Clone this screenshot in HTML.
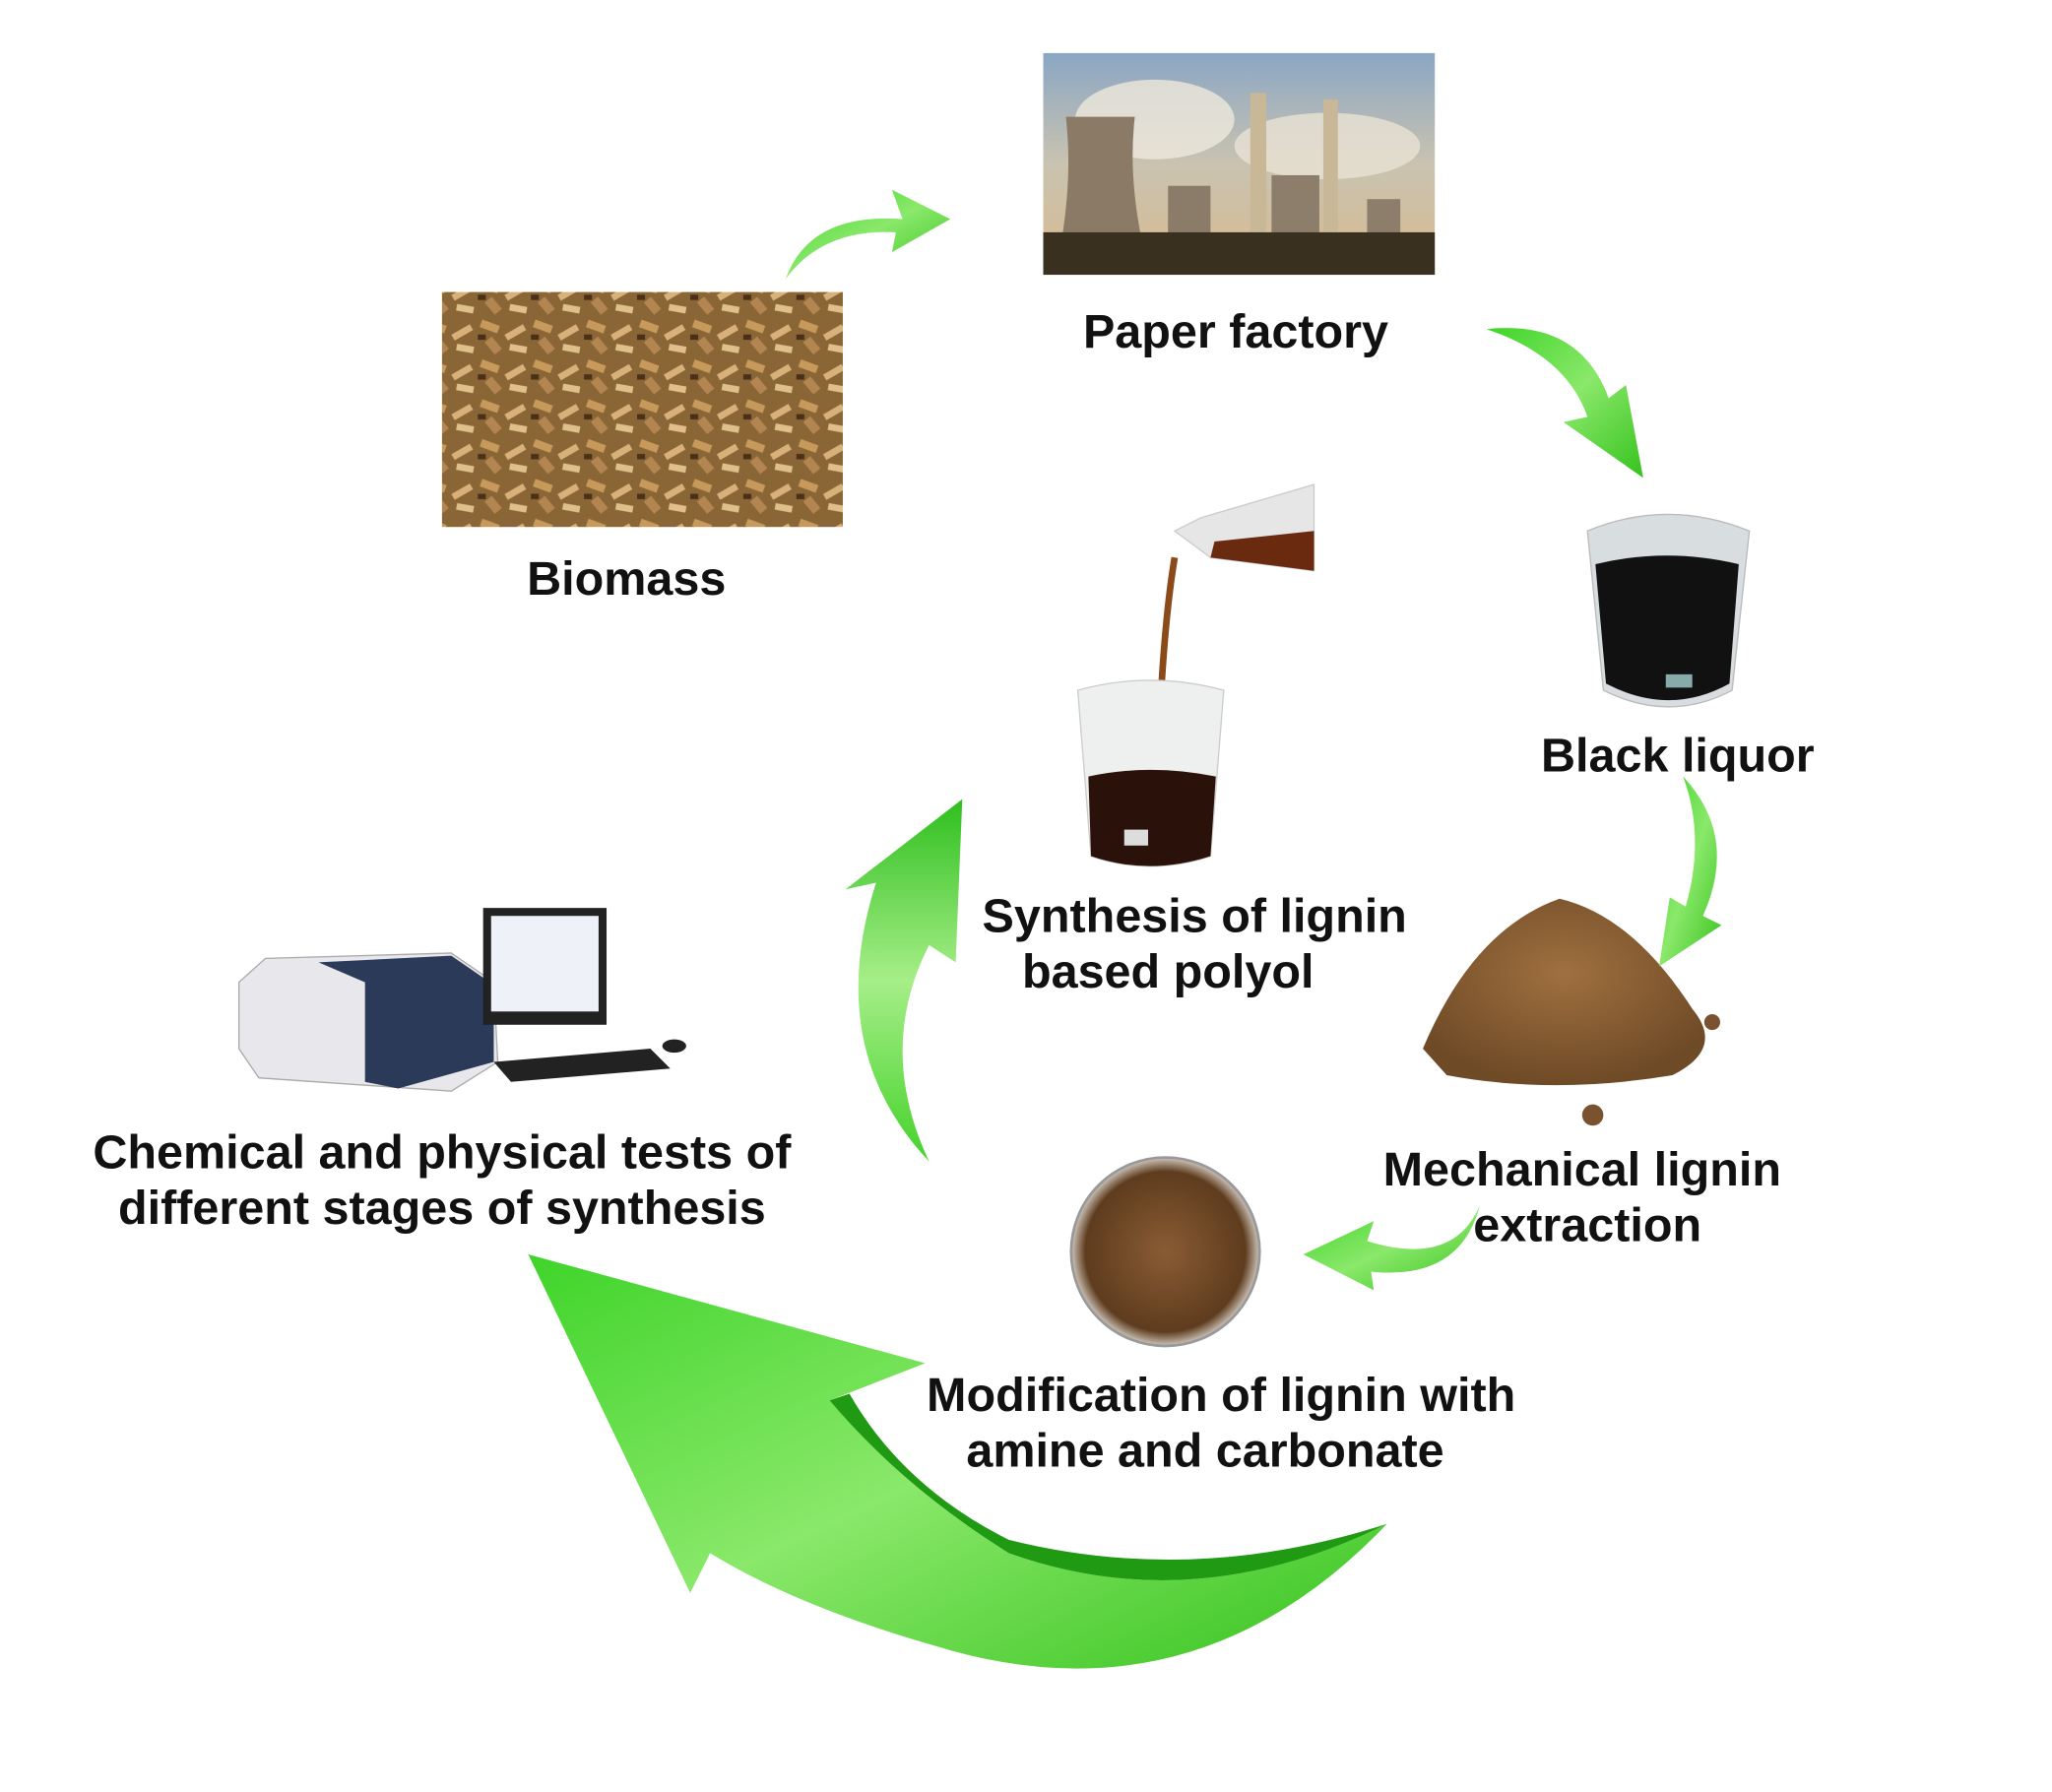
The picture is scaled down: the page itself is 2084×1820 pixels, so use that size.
<!DOCTYPE html>
<html><head><meta charset="utf-8"><style>
html,body{margin:0;padding:0;background:#fff}
svg{display:block}
text{font-family:"Liberation Sans",Arial,sans-serif;font-weight:bold;font-size:36px;fill:#111}
</style></head><body>
<svg width="2084" height="1820" viewBox="0 0 1546 1350" preserveAspectRatio="none" xmlns="http://www.w3.org/2000/svg">
<defs>
<linearGradient id="g" x1="0" y1="0" x2="1" y2="1">
<stop offset="0" stop-color="#3fd42a"/><stop offset="0.5" stop-color="#8ae86a"/><stop offset="1" stop-color="#36c21e"/></linearGradient>
<linearGradient id="g2" x1="0" y1="0" x2="0" y2="1">
<stop offset="0" stop-color="#2fbf1f"/><stop offset="0.5" stop-color="#a6ee88"/><stop offset="1" stop-color="#45d22c"/></linearGradient>
<linearGradient id="sky" x1="0" y1="0" x2="0" y2="1">
<stop offset="0" stop-color="#8aa6c4"/><stop offset="0.5" stop-color="#c9c3b0"/><stop offset="1" stop-color="#d8b98e"/></linearGradient>
<pattern id="chips" width="40" height="30" patternUnits="userSpaceOnUse">
<rect width="40" height="30" fill="#8a6536"/>
<rect x="2" y="3" width="14" height="6" fill="#c79a5c" transform="rotate(20 9 6)"/>
<rect x="20" y="8" width="16" height="5" fill="#d8b07a" transform="rotate(-30 28 10)"/>
<rect x="6" y="17" width="12" height="7" fill="#b38550" transform="rotate(50 12 20)"/>
<rect x="24" y="20" width="13" height="5" fill="#e0c08a" transform="rotate(10 30 22)"/>
<rect x="0" y="12" width="6" height="4" fill="#4a3018"/>
</pattern>
<radialGradient id="powder" cx="0.5" cy="0.4" r="0.6"><stop offset="0" stop-color="#a07040"/><stop offset="1" stop-color="#6e4a26"/></radialGradient>
<radialGradient id="dish" cx="0.5" cy="0.5" r="0.5"><stop offset="0" stop-color="#8a5c34"/><stop offset="0.85" stop-color="#5e3c1e"/><stop offset="1" stop-color="#cfc6bc"/></radialGradient>
</defs>
<rect width="1546" height="1350" fill="#fff"/>

<rect x="786" y="40" width="295" height="167" fill="url(#sky)"/>
<ellipse cx="870" cy="90" rx="60" ry="30" fill="#eee8dc" opacity="0.8"/>
<ellipse cx="1000" cy="110" rx="70" ry="25" fill="#e8e2d4" opacity="0.8"/>
<path d="M800 180 Q808 130 803 88 L855 88 Q850 130 860 180Z" fill="#8a7a66"/>
<rect x="880" y="140" width="32" height="42" fill="#8a7c68"/>
<rect x="942" y="70" width="12" height="115" fill="#c8b898"/>
<rect x="997" y="75" width="11" height="110" fill="#c8b898"/>
<rect x="958" y="132" width="36" height="50" fill="#8c7e6a"/>
<rect x="1030" y="150" width="25" height="32" fill="#8c7e6a"/>
<rect x="786" y="175" width="295" height="32" fill="#3a3020"/>

<rect x="333" y="220" width="302" height="177" fill="url(#chips)"/>

<path d="M1196 400 Q1256 375 1318 400 L1305 520 Q1258 545 1208 520Z" fill="#d8dde0" stroke="#bbb"/>
<path d="M1202 425 Q1256 412 1310 425 L1303 515 Q1258 540 1210 515Z" fill="#111"/>
<rect x="1255" y="508" width="20" height="10" fill="#8aa"/>

<path d="M885 400 L905 390 L990 365 L990 430 L912 420 Z" fill="#e6e6e6" stroke="#ccc"/>
<path d="M915 408 L990 400 L990 430 L912 420Z" fill="#6a2a10"/>
<path d="M885 420 Q875 480 872 590" stroke="#8a4a1a" stroke-width="5" fill="none"/>
<path d="M812 520 Q866 505 922 520 L912 645 Q866 660 822 645Z" fill="#eef0f0" stroke="#ccc"/>
<path d="M820 585 Q866 575 916 585 L912 645 Q866 660 822 645Z" fill="#2a120a"/>
<rect x="847" y="625" width="18" height="12" fill="#ddd"/>

<path d="M1072 790 Q1110 700 1175 677 Q1230 690 1275 760 Q1300 790 1260 810 Q1170 825 1090 810Z" fill="url(#powder)"/>
<circle cx="1290" cy="770" r="6" fill="#7a5230"/>
<circle cx="1200" cy="840" r="8" fill="#7a5230"/>

<circle cx="878" cy="943" r="71" fill="url(#dish)" stroke="#999" stroke-width="2"/>

<path d="M180 740 L200 722 L340 718 L372 740 L375 800 L340 822 L195 812 L180 790Z" fill="#e8e8ec" stroke="#aaa"/>
<path d="M240 725 L340 720 L372 742 L372 800 L300 820 L275 815 L275 740Z" fill="#2a3a58"/>
<rect x="364" y="684" width="93" height="88" fill="#222"/>
<rect x="370" y="690" width="81" height="72" fill="#eef2f8"/>
<path d="M372 800 L490 790 L505 805 L385 815Z" fill="#222"/>
<ellipse cx="508" cy="788" rx="9" ry="5" fill="#222"/>

<path d="M592 210 Q610 160 680 165 L672 143 L716 165 L672 190 L675 175 Q620 172 592 210Z" fill="url(#g)"/>
<path d="M1120 248 Q1190 240 1212 300 L1225 290 L1238 360 L1178 318 L1196 314 Q1180 268 1120 248Z" fill="url(#g)"/>
<path d="M1268 585 Q1310 630 1283 690 L1297 697 L1250 728 L1258 676 L1270 683 Q1285 630 1268 585Z" fill="url(#g)"/>
<path d="M1115 908 Q1095 955 1030 935 L1035 920 L982 945 L1035 972 L1033 958 Q1100 965 1115 908Z" fill="url(#g)"/>
<path d="M700 875 Q620 790 660 665 L637 670 L725 602 L720 725 L700 712 Q660 790 700 875Z" fill="url(#g2)"/>
<path d="M1045 1148 Q900 1300 705 1240 Q600 1210 535 1170 L520 1200 L398 945 L697 1027 L625 1055 Q680 1120 760 1170 Q900 1220 1045 1148Z" fill="url(#g)"/>
<path d="M625 1055 Q680 1120 760 1170 Q900 1220 1045 1148 Q900 1195 760 1160 Q680 1120 640 1050Z" fill="#1f9a12"/>

<text x="931" y="262" text-anchor="middle">Paper factory</text>
<text x="472" y="448" text-anchor="middle">Biomass</text>
<text x="1264" y="581" text-anchor="middle">Black liquor</text>
<text x="900" y="702" text-anchor="middle">Synthesis of lignin</text>
<text x="880" y="744" text-anchor="middle">based polyol</text>
<text x="1192" y="893" text-anchor="middle">Mechanical lignin</text>
<text x="1196" y="935" text-anchor="middle">extraction</text>
<text x="920" y="1063" text-anchor="middle">Modification of lignin with</text>
<text x="908" y="1105" text-anchor="middle">amine and carbonate</text>
<text x="333" y="880" text-anchor="middle">Chemical and physical tests of</text>
<text x="333" y="922" text-anchor="middle">different stages of synthesis</text>
</svg>
</body></html>
